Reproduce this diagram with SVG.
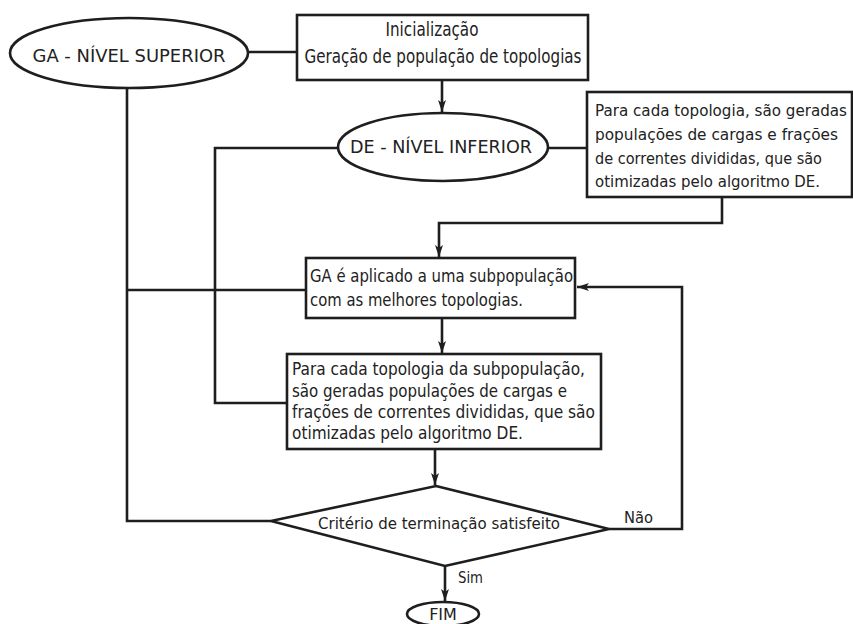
<svg xmlns="http://www.w3.org/2000/svg" width="853" height="624" viewBox="0 0 853 624">
<style>
.s{fill:#fff;stroke:#1e1e1e;stroke-width:2.6}
.c{fill:none;stroke:#1e1e1e;stroke-width:2.6}
text{font-family:"DejaVu Sans","Liberation Sans",sans-serif;fill:#222}
.m{text-anchor:middle}
</style>
<defs>
<marker id="ah" markerUnits="userSpaceOnUse" markerWidth="12" markerHeight="8" viewBox="0 0 12 8" refX="12" refY="4" orient="auto">
<path d="M0,0 L12,4 L0,8 L3,4 Z" fill="#1e1e1e"/>
</marker>
</defs>
<g id="connectors">
<path class="c" d="M248,52 H297"/>
<path class="c" d="M442,80 V112" marker-end="url(#ah)"/>
<path class="c" d="M338,148 H215 V403 H287"/>
<path class="c" d="M548,148 H587"/>
<path class="c" d="M722,197 V223 H439 V257" marker-end="url(#ah)"/>
<path class="c" d="M127,88 V521 H271"/>
<path class="c" d="M127,290 H306"/>
<path class="c" d="M442,318 V353" marker-end="url(#ah)"/>
<path class="c" d="M435,449 V485" marker-end="url(#ah)"/>
<path class="c" d="M609,529 H682 V287 H577" marker-end="url(#ah)"/>
<path class="c" d="M445,566 V601" marker-end="url(#ah)"/>
</g>
<g id="ga-superior">
<ellipse class="s" cx="129" cy="53" rx="119" ry="35"/>
<text class="m" x="129" y="62" font-size="18" textLength="193" lengthAdjust="spacingAndGlyphs">GA - NÍVEL SUPERIOR</text>
</g>
<g id="inicializacao">
<rect class="s" x="297" y="15" width="291" height="65"/>
<text class="m" x="432" y="36" font-size="19" textLength="93" lengthAdjust="spacingAndGlyphs">Inicialização</text>
<text class="m" x="443" y="63" font-size="19" textLength="277" lengthAdjust="spacingAndGlyphs">Geração de população de topologias</text>
</g>
<g id="de-inferior">
<ellipse class="s" cx="443" cy="147" rx="105" ry="34"/>
<text class="m" x="441" y="153" font-size="18" textLength="182" lengthAdjust="spacingAndGlyphs">DE - NÍVEL INFERIOR</text>
</g>
<g id="box-de">
<rect class="s" x="587" y="92" width="265" height="105"/>
<text x="595" y="116" font-size="15" textLength="252" lengthAdjust="spacingAndGlyphs">Para cada topologia, são geradas</text>
<text x="595" y="140" font-size="15" textLength="243" lengthAdjust="spacingAndGlyphs">populações de cargas e frações</text>
<text x="595" y="164" font-size="15" textLength="227" lengthAdjust="spacingAndGlyphs">de correntes divididas, que são</text>
<text x="595" y="187" font-size="15" textLength="225" lengthAdjust="spacingAndGlyphs">otimizadas pelo algoritmo DE.</text>
</g>
<g id="box-ga">
<rect class="s" x="306" y="258" width="269" height="60"/>
<text x="310" y="282" font-size="18" textLength="263" lengthAdjust="spacingAndGlyphs">GA é aplicado a uma subpopulação</text>
<text x="310" y="306" font-size="18" textLength="213" lengthAdjust="spacingAndGlyphs">com as melhores topologias.</text>
</g>
<g id="box-sub">
<rect class="s" x="287" y="354" width="314" height="95"/>
<text x="292" y="375" font-size="17" textLength="293" lengthAdjust="spacingAndGlyphs">Para cada topologia da subpopulação,</text>
<text x="292" y="397" font-size="17" textLength="275" lengthAdjust="spacingAndGlyphs">são geradas populações de cargas e</text>
<text x="292" y="418" font-size="17" textLength="303" lengthAdjust="spacingAndGlyphs">frações de correntes divididas, que são</text>
<text x="292" y="439" font-size="17" textLength="231" lengthAdjust="spacingAndGlyphs">otimizadas pelo algoritmo DE.</text>
</g>
<g id="criterio">
<polygon class="s" points="436,486 609,529 445,566 271,521"/>
<text x="318" y="529" font-size="16" textLength="242" lengthAdjust="spacingAndGlyphs">Critério de terminação satisfeito</text>
</g>
<g id="labels">
<text x="624" y="523" font-size="16" textLength="29" lengthAdjust="spacingAndGlyphs">Não</text>
<text x="458" y="583" font-size="16" textLength="25" lengthAdjust="spacingAndGlyphs">Sim</text>
</g>
<g id="fim">
<ellipse class="s" cx="443" cy="614" rx="36" ry="12"/>
<text class="m" x="443" y="620" font-size="16">FIM</text>
</g>
</svg>
